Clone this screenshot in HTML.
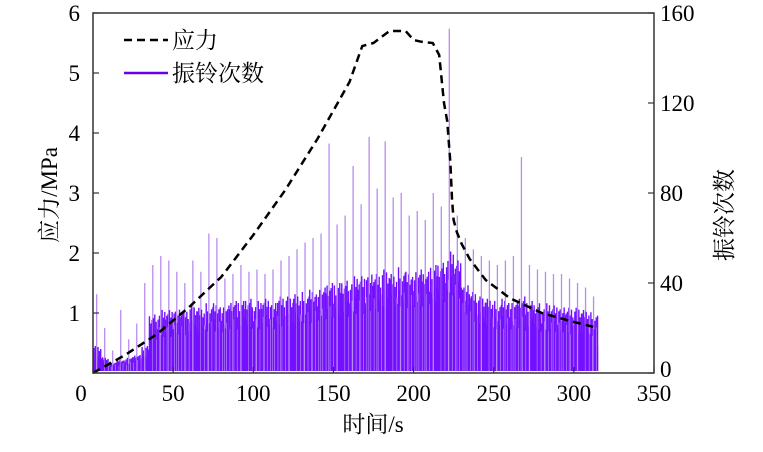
<!DOCTYPE html>
<html><head><meta charset="utf-8"><style>
body{margin:0;background:#fff}
svg{display:block;font-family:"Liberation Serif","Noto Serif CJK SC",serif}
</style></head><body>
<svg width="763" height="452" viewBox="0 0 763 452" xmlns="http://www.w3.org/2000/svg">
<g id="ae"></g>
<path id="stress" fill="none" stroke="#000" stroke-width="2.5" stroke-dasharray="8,5"/>
<rect x="93" y="13" width="561" height="360" fill="none" stroke="#333" stroke-width="1.5"/>
<g id="axes" font-size="23" fill="#000"></g>
<text x="373" y="432" font-size="23" text-anchor="middle">时间/s</text>
<text transform="translate(57,195) rotate(-90)" font-size="23" text-anchor="middle">应力/MPa</text>
<text transform="translate(732,215) rotate(-90)" font-size="23" text-anchor="middle">振铃次数</text>
<g>
<line x1="124" y1="40" x2="168" y2="40" stroke="#000" stroke-width="2.5" stroke-dasharray="8,5"/>
<text x="172" y="48" font-size="23">应力</text>
<line x1="124" y1="73" x2="168" y2="73" stroke="#6a00e8" stroke-width="2.5"/>
<text x="172" y="81" font-size="23">振铃次数</text>
</g>
</svg>
<script>
const stressX=[0,20,40,60,80,100,120,140,160,168,175,185,195,200,205,212,216,219,221,223,224,225,227,230,235,245,260,280,300,315];
const stressY=[0,0.3,0.65,1.1,1.6,2.3,3.05,3.9,4.85,5.45,5.5,5.7,5.7,5.55,5.52,5.5,5.3,4.5,4.2,3.5,2.9,2.55,2.35,2.15,1.9,1.55,1.25,1.0,0.85,0.75];
const aeBinStart=[0,5,10,15,20,25,30,35,40,45,50,55,60,65,70,75,80,85,90,95,100,105,110,115,120,125,130,135,140,145,150,155,160,165,170,175,180,185,190,195,200,205,210,215,220,225,230,235,240,245,250,255,260,265,270,275,280,285,290,295,300,305,310];
const aeBase=[3,2,2,2,2,3,4,10,11,11,12,12,13,12,13,13,13,14,14,14,14,15,14,15,15,15,16,16,17,17,18,18,19,19,20,20,21,21,22,22,22,23,23,24,26,26,20,17,16,15,14,14,14,14,13,13,13,13,13,12,12,12,12];
const aeMid=[12,7,5,6,7,8,12,26,28,28,29,28,30,29,31,31,30,32,32,33,32,33,32,34,34,35,36,37,38,40,40,41,43,43,45,44,46,44,47,45,46,45,48,49,54,50,40,36,34,33,32,33,32,34,32,31,31,30,30,29,29,28,27];
const aePeak=[35,20,10,28,15,22,40,48,52,50,45,40,50,45,62,60,42,44,48,45,46,44,46,50,52,55,58,60,62,102,66,70,92,75,105,82,103,78,80,70,72,68,80,74,153,70,60,55,52,50,48,50,52,96,48,46,45,44,44,42,40,38,34];
const sx=v=>93+v*561/350, syL=v=>373-v*60, syR=v=>373-v*2.25;
const NS="http://www.w3.org/2000/svg";
document.getElementById('stress').setAttribute('d',stressX.map((x,i)=>(i?'L':'M')+sx(x).toFixed(1)+','+syL(stressY[i]).toFixed(1)).join(''));
const ae=document.getElementById('ae');
const jitter=[0.55,0.9,0.35,1,0.6,0.8,0.3,0.95,0.5,0.75,0.4,0.85];
aeBinStart.forEach((t,i)=>{
  const x0=sx(t), w=sx(t+5)-x0;
  if(t>=35){
    const r=document.createElementNS(NS,'rect');
    
    
    r.setAttribute('x',x0);r.setAttribute('width',w+0.3);
    r.setAttribute('y',syR(aeBase[i]));r.setAttribute('height',371-syR(aeBase[i]));
    r.setAttribute('fill','#7000ff');
    ae.appendChild(r);
  }
  const n=12;
  for(let k=0;k<n;k++){
    const l=document.createElementNS(NS,'line');
    
    
    const xx=x0+(k+0.5)*w/n;
    const isPeak=(k==5);
    const v=isPeak?aePeak[i]:aeBase[i]+(aeMid[i]-aeBase[i])*jitter[(k+i)%12];
    const light=isPeak||((k+i)%6==0);
    l.setAttribute('x1',xx);l.setAttribute('x2',xx);
    l.setAttribute('y1',371);l.setAttribute('y2',syR(v));
    l.setAttribute('stroke',light?'#b98cf0':'#7410ff');
    l.setAttribute('stroke-width',isPeak?1.3:1.4);
    ae.appendChild(l);
  }
});
const axes=document.getElementById('axes');
function txt(x,y,s,a,name){const t=document.createElementNS(NS,'text');t.setAttribute('x',x);t.setAttribute('y',y);t.setAttribute('text-anchor',a);t.textContent=s;


axes.appendChild(t);}
function tick(x1,y1,x2,y2){const l=document.createElementNS(NS,'line');l.setAttribute('x1',x1);l.setAttribute('y1',y1);l.setAttribute('x2',x2);l.setAttribute('y2',y2);l.setAttribute('stroke','#333');l.setAttribute('stroke-width',1.2);


axes.appendChild(l);}
const xTicks=[0,50,100,150,200,250,300,350];
xTicks.forEach(v=>{txt(sx(v)-(v==0?12:0),401,v,'middle','x-tick-label');tick(sx(v),373,sx(v),367);});
const yLTicks=[1,2,3,4,5,6];
yLTicks.forEach(v=>{txt(80,syL(v)+8,v,'end','y-left-tick-label');tick(93,syL(v),99,syL(v));});
const yRTicks=[0,40,80,120,160];
yRTicks.forEach(v=>{txt(660,syR(v)+(v==0?4:8),v,'start','y-right-tick-label');tick(654,syR(v),648,syR(v));});
</script>
</body></html>
